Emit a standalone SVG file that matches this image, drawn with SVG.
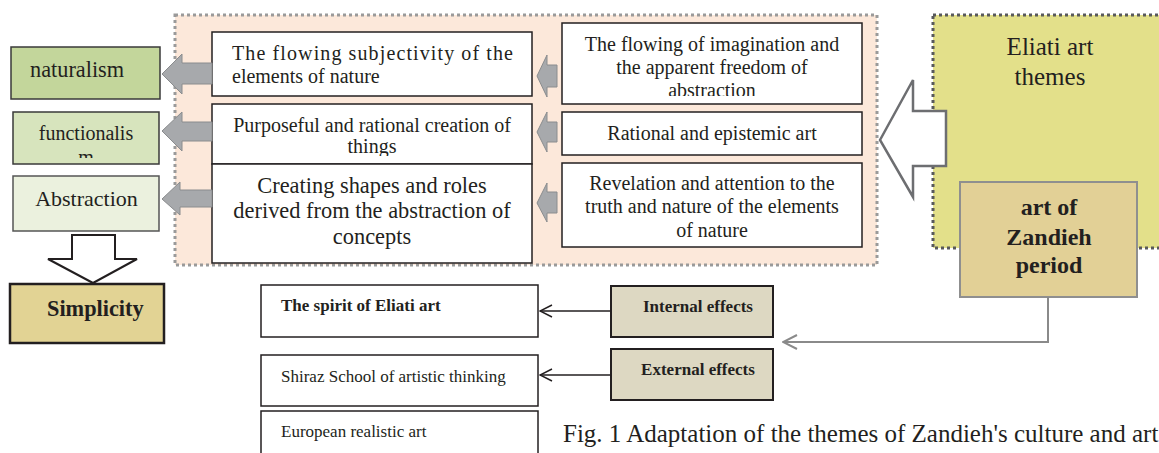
<svg xmlns="http://www.w3.org/2000/svg" width="1159" height="453" viewBox="0 0 1159 453">
<style>
text{font-family:"Liberation Serif","Times New Roman",serif;fill:#231f20}
.box{fill:#fff;stroke:#231f20;stroke-width:1.5}
.sm{fill:#a7a9ac;stroke:#8a8c8e;stroke-width:1}
.c{text-anchor:middle}
.b{font-weight:bold}
</style>
<defs>
<marker id="open" viewBox="0 0 14 14" refX="13" refY="7" markerWidth="14" markerHeight="14" markerUnits="userSpaceOnUse" orient="auto">
<path d="M1,1 L13,7 L1,13" fill="none" stroke="#231f20" stroke-width="1.5"/>
</marker>
<marker id="openg" viewBox="0 0 16 16" refX="15" refY="8" markerWidth="16" markerHeight="16" markerUnits="userSpaceOnUse" orient="auto">
<path d="M1,1 L15,8 L1,15" fill="none" stroke="#8a8a8a" stroke-width="2"/>
</marker>
<clipPath id="clipA"><rect x="562" y="23" width="300" height="73"/></clipPath>
<clipPath id="clip2"><rect x="212" y="104" width="320" height="52"/></clipPath>
<clipPath id="clipF"><rect x="13" y="112" width="146" height="46"/></clipPath>
</defs>

<g id="themes-container">
<rect x="175" y="15" width="702" height="250" fill="#fce8da" stroke="#9a9a9a" stroke-width="3" stroke-dasharray="3,3"/>
</g>

<g id="eliati">
<rect x="933" y="15" width="240" height="233" fill="#e3e08a" stroke="#58595b" stroke-width="3" stroke-dasharray="3,3"/>
<text x="1050" y="55" class="c" font-size="25">Eliati art</text>
<text x="1050" y="85" class="c" font-size="25">themes</text>
</g>

<g id="big-arrow">
<path d="M880,140 L913,80 L913,111 L946,111 L946,166 L913,166 L913,197 Z" fill="#fff" stroke="#6d6e71" stroke-width="2.5"/>
</g>

<g id="zandieh">
<rect x="960" y="182" width="177" height="115" fill="#e2d096" stroke="#8f8f8f" stroke-width="2"/>
<text x="1049" y="215" class="c b" font-size="24">art of</text>
<text x="1049" y="245" class="c b" font-size="24">Zandieh</text>
<text x="1049" y="273" class="c b" font-size="24">period</text>
</g>

<g id="left1">
<rect x="212" y="32" width="320" height="64" class="box"/>
<text x="232" y="60" font-size="20" textLength="281" lengthAdjust="spacing">The flowing subjectivity of the</text>
<text x="232" y="83" font-size="20">elements of nature</text>
</g>
<g id="left2">
<rect x="212" y="104" width="320" height="60" class="box"/>
<g clip-path="url(#clip2)">
<text x="372" y="132" class="c" font-size="20">Purposeful and rational creation of</text>
<text x="372" y="153" class="c" font-size="20">things</text>
</g>
</g>
<g id="left3">
<rect x="212" y="164" width="320" height="99" class="box"/>
<text x="372" y="193" class="c" font-size="22.4">Creating shapes and roles</text>
<text x="372" y="218" class="c" font-size="22.4">derived from the abstraction of</text>
<text x="372" y="244" class="c" font-size="22.4">concepts</text>
</g>

<g id="right1">
<rect x="562" y="23" width="300" height="81" class="box"/>
<g clip-path="url(#clipA)">
<text x="712" y="51" class="c" font-size="20">The flowing of imagination and</text>
<text x="712" y="74" class="c" font-size="20">the apparent freedom of</text>
<text x="712" y="97" class="c" font-size="20">abstraction</text>
</g>
</g>
<g id="right2">
<rect x="562" y="112" width="300" height="43" class="box"/>
<text x="712" y="140" class="c" font-size="20">Rational and epistemic art</text>
</g>
<g id="right3">
<rect x="562" y="163" width="300" height="84" class="box"/>
<text x="712" y="190" class="c" font-size="20">Revelation and attention to the</text>
<text x="712" y="213" class="c" font-size="20">truth and nature of the elements</text>
<text x="712" y="237" class="c" font-size="20">of nature</text>
</g>

<g id="naturalism">
<rect x="11" y="47" width="149" height="52" fill="#c3d69b" stroke="#3a3a3a" stroke-width="1.5"/>
<text x="30" y="77" font-size="22.3">naturalism</text>
</g>
<g id="functionalism">
<rect x="13" y="112" width="146" height="52" fill="#d7e4bd" stroke="#3a3a3a" stroke-width="1.5"/>
<g clip-path="url(#clipF)">
<text x="86" y="140" class="c" font-size="20">functionalis</text>
<text x="86" y="164" class="c" font-size="20">m</text>
</g>
</g>
<g id="abstraction">
<rect x="13" y="176" width="146" height="55" fill="#ebf1de" stroke="#555" stroke-width="1.5"/>
<text x="86.5" y="206" class="c" font-size="22">Abstraction</text>
</g>
<g id="simplicity">
<rect x="10" y="284" width="154" height="59" fill="#e2d394" stroke="#231f20" stroke-width="2.5"/>
<text x="47" y="316" class="b" font-size="22.3">Simplicity</text>
</g>

<g id="spirit">
<rect x="261" y="285" width="277" height="52" class="box"/>
<text x="281" y="311" class="b" font-size="17">The spirit of Eliati art</text>
</g>
<g id="shiraz">
<rect x="261" y="355" width="277" height="51" class="box"/>
<text x="281" y="382" font-size="17">Shiraz School of artistic thinking</text>
</g>
<g id="european">
<rect x="261" y="411" width="277" height="50" class="box"/>
<text x="281" y="437" font-size="17">European realistic art</text>
</g>
<g id="internal">
<rect x="611" y="286" width="162" height="51" fill="#ddd8c2" stroke="#231f20" stroke-width="2"/>
<text x="698" y="312" class="c b" font-size="17">Internal effects</text>
</g>
<g id="external">
<rect x="611" y="349" width="162" height="51" fill="#ddd8c2" stroke="#231f20" stroke-width="2"/>
<text x="698" y="375" class="c b" font-size="17">External effects</text>
</g>

<g id="connectors">
<path class="sm" d="M537,76 L547,55 L547,65 L557,65 L557,87 L547,87 L547,97 Z"/>
<path class="sm" d="M537,132 L547,112 L547,122 L557,122 L557,142 L547,142 L547,152 Z"/>
<path class="sm" d="M537,203 L547,183 L547,192 L557,192 L557,213 L547,213 L547,222 Z"/>
<path class="sm" d="M162,74 L182,54 L182,63 L212,63 L212,84 L182,84 L182,94 Z"/>
<path class="sm" d="M162,131 L182,112 L182,122 L212,122 L212,141 L182,141 L182,151 Z"/>
<path class="sm" d="M162,199 L180,182 L180,190 L212,190 L212,207 L180,207 L180,215 Z"/>
<path d="M72,235 L115,235 L115,259 L137,259 L93,283 L48,259 L72,259 Z" fill="#fff" stroke="#231f20" stroke-width="2"/>
<line x1="611" y1="311" x2="540" y2="311" stroke="#231f20" stroke-width="1.5" marker-end="url(#open)"/>
<line x1="611" y1="375" x2="540" y2="375" stroke="#231f20" stroke-width="1.5" marker-end="url(#open)"/>
<polyline points="1048,297 1048,342 783,342" fill="none" stroke="#8a8a8a" stroke-width="2" marker-end="url(#openg)"/>
</g>

<text x="563" y="442" font-size="25">Fig. 1 Adaptation of the themes of Zandieh's culture and art</text>
</svg>
